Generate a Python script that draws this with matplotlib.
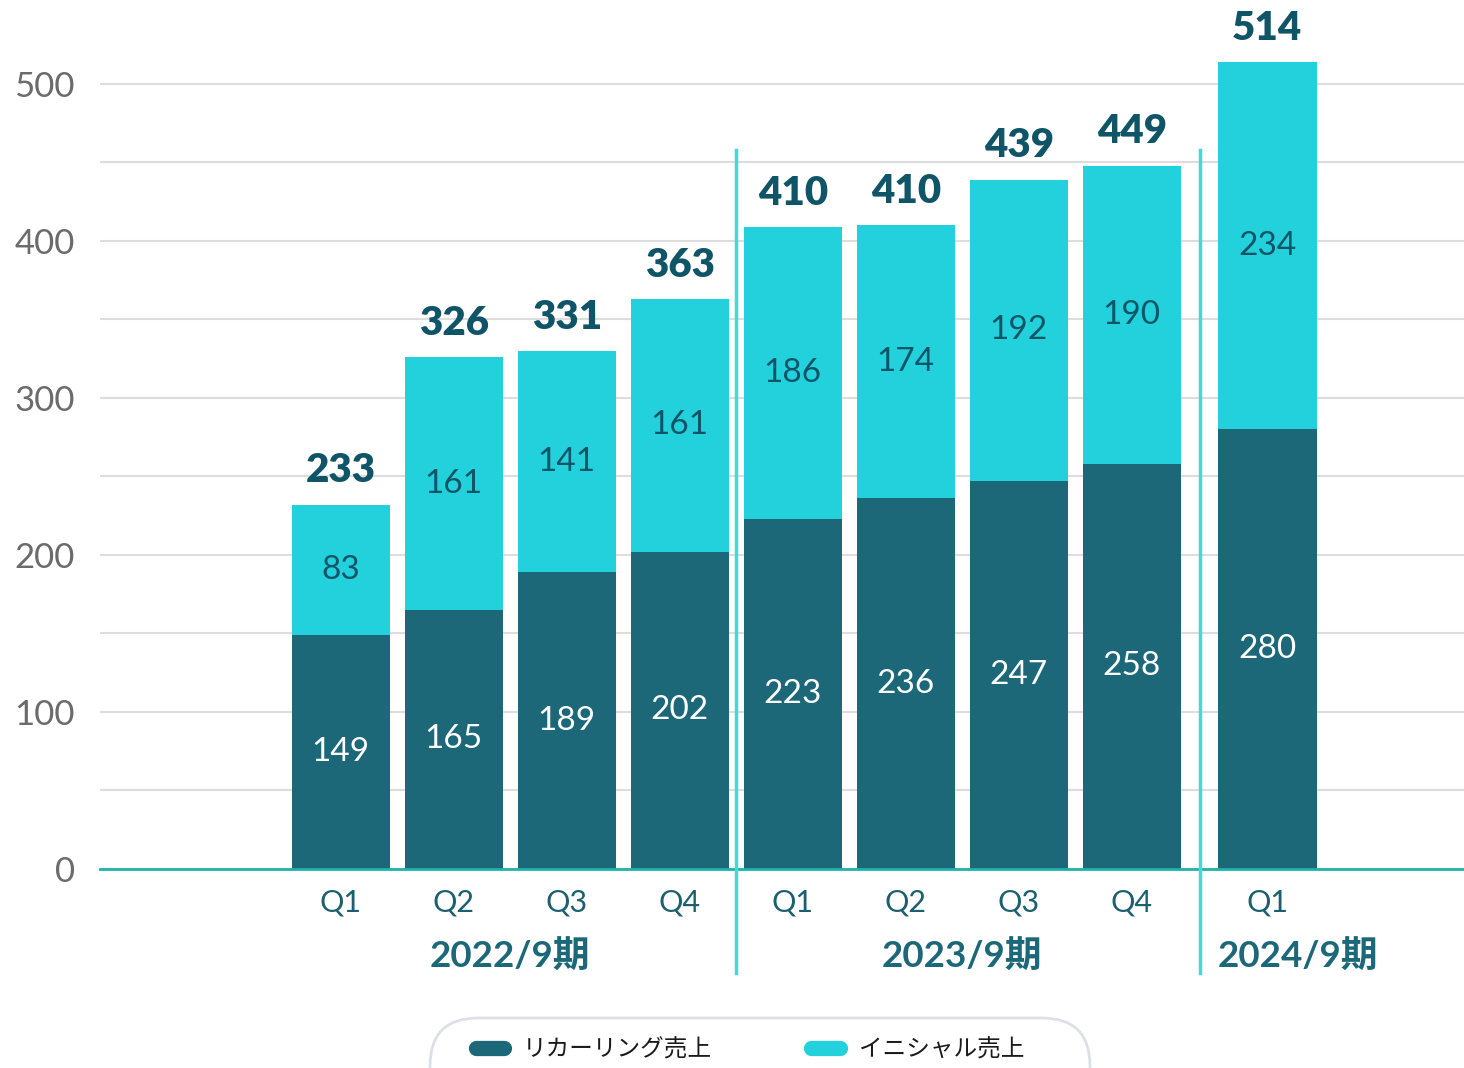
import matplotlib.pyplot as plt
import numpy as np
from matplotlib.lines import Line2D
from matplotlib.patches import FancyBboxPatch
from matplotlib.transforms import IdentityTransform

plt.rcParams['font.family'] = ['Lato', 'Noto Sans CJK JP', 'DejaVu Sans']

quarters = ['Q1', 'Q2', 'Q3', 'Q4', 'Q1', 'Q2', 'Q3', 'Q4', 'Q1']
groups = ['2022/9期', '2023/9期', '2024/9期']
group_of = [0, 0, 0, 0, 1, 1, 1, 1, 2]
recurring = [149, 165, 189, 202, 223, 236, 247, 258, 280]
initial = [83, 161, 141, 161, 186, 174, 192, 190, 234]
totals = [233, 326, 331, 363, 410, 410, 439, 449, 514]

DARK = '#1c6878'
LIGHT = '#22d1dc'
TXT = '#0f5567'

# small extra gap before the last fiscal year
x = np.arange(len(quarters)) + np.array([0.0 if g < 2 else 0.2 for g in group_of])

fig = plt.figure(figsize=(14.64, 10.68), dpi=100)
ax = fig.add_axes([100 / 1464, 1 - 869 / 1068, 1 - 100 / 1464, 869 / 1068])

ax.bar(x, recurring, width=0.87, color=DARK, zorder=3)
ax.bar(x, initial, width=0.87, bottom=recurring, color=LIGHT, zorder=3)

for xi, r, i, t in zip(x, recurring, initial, totals):
    ax.text(xi, r / 2, str(r), ha='center', va='center', fontsize=24, color='white', zorder=4)
    ax.text(xi, r + i / 2, str(i), ha='center', va='center', fontsize=24, color=TXT, zorder=4)
    ax.annotate(str(t), (xi, r + i), xytext=(0, 11), textcoords='offset points',
                ha='center', va='bottom', fontsize=29, fontweight='heavy', color=TXT)

ax.set_xlim(-2.13, 9.94)
ax.set_ylim(0, 553.5)
ax.set_yticks(np.arange(0, 501, 100))
ax.set_yticks(np.arange(0, 501, 50), minor=True)
ax.grid(axis='y', which='both', color='#dddddd', lw=1.5, zorder=0)
ax.tick_params(axis='y', which='both', length=0, pad=18, labelsize=25, labelcolor='#6b6b6b')
ax.set_xticks(x)
ax.set_xticklabels(quarters)
ax.tick_params(axis='x', length=0, pad=14, labelsize=22, labelcolor='#1c5f6e')
for s in ['top', 'right', 'left']:
    ax.spines[s].set_visible(False)
ax.spines['bottom'].set_color('#1fb3aa')
ax.spines['bottom'].set_linewidth(2)
ax.spines['bottom'].set_zorder(5)

# fiscal-year labels and separators
label_nudge = [0, 0, 0.27]
for g, name in enumerate(groups):
    xs = [xi for xi, gg in zip(x, group_of) if gg == g]
    ax.text(np.mean(xs) + label_nudge[g], -56, name, ha='center', va='center', fontsize=26.5,
            fontweight='bold', color='#1c6878', clip_on=False)
for g in range(1, len(groups)):
    prev = max(xi for xi, gg in zip(x, group_of) if gg == g - 1)
    nxt = min(xi for xi, gg in zip(x, group_of) if gg == g)
    ax.plot([(prev + nxt) / 2] * 2, [-66, 458], color='#40dcd4', lw=2.5,
            clip_on=False, zorder=6)

# legend: pill-shaped frame drawn in pixels, running off the bottom edge
box = FancyBboxPatch((430, -60), 660, 110, boxstyle='round,pad=0,rounding_size=48',
                     transform=IdentityTransform(), facecolor='white',
                     edgecolor='#dde0e6', linewidth=2)
fig.add_artist(box)
handles = [Line2D([0], [0], color=DARK, lw=11, solid_capstyle='round'),
           Line2D([0], [0], color=LIGHT, lw=11, solid_capstyle='round')]
leg = fig.legend(handles, ['リカーリング売上', 'イニシャル売上'], loc='center',
                 bbox_to_anchor=(750 / 1464, 1 - 1050 / 1068), ncol=2, frameon=False,
                 prop={'family': ['Noto Sans CJK JP'], 'size': 17},
                 labelcolor='#1a1a1a',
                 handlelength=1.2, handletextpad=0.8, columnspacing=4.2,
                 borderpad=0, borderaxespad=0)

fig.savefig('out.png', dpi=100)
